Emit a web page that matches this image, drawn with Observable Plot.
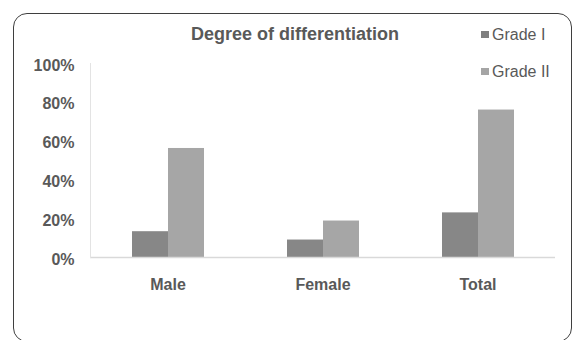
<!DOCTYPE html>
<html>
<head>
<meta charset="utf-8">
<script src="https://cdn.jsdelivr.net/npm/d3@7"></script>
<script src="https://cdn.jsdelivr.net/npm/@observablehq/plot@0.6"></script>
<style>
  html, body { margin: 0; padding: 0; background: #fff; }
  #chart { position: relative; width: 576px; height: 340px; overflow: hidden; font-family: "Liberation Sans", Arial, sans-serif; }
  #chart svg { position: absolute; left: 0; top: 0; }
  .box { position: absolute; left: 13px; top: 13px; width: 559px; height: 329px; border: 1.6px solid #3f3f3f; border-radius: 14px; box-sizing: border-box; }
  .title { position: absolute; left: 0; width: 590px; top: 24px; text-align: center; font-size: 18px; font-weight: bold; color: #595959; }
  .legend { position: absolute; left: 481px; font-size: 16px; color: #595959; line-height: 18px; }
  .legend span.sw { display: inline-block; width: 8px; height: 7px; margin-right: 3px; vertical-align: 2px; }
</style>
</head>
<body>
<div id="chart">
  <div class="box"></div>
</div>
<script>
// Share of patients by degree of differentiation
const categories = ["Male", "Female", "Total"];
const grades = ["Grade I", "Grade II"];
const gradeI = [0.133, 0.090, 0.230];
const gradeII = [0.562, 0.188, 0.760];
const yTicks = [0, 0.2, 0.4, 0.6, 0.8, 1];
const colors = ["#878787", "#a6a6a6"];
const swatchColors = ["#7f7f7f", "#a5a5a5"];

const rows = categories.flatMap((c, i) => [
  {category: c, grade: grades[0], value: gradeI[i]},
  {category: c, grade: grades[1], value: gradeII[i]}
]);

const chart = Plot.plot({
  width: 576,
  height: 340,
  marginLeft: 89,
  marginRight: 21,
  marginTop: 63,
  marginBottom: 83,
  style: {fontFamily: "'Liberation Sans', Arial, sans-serif", background: "transparent", color: "#595959"},
  fx: {domain: categories, padding: 0},
  x: {domain: grades, paddingInner: 0, paddingOuter: 1.1, axis: null},
  y: {domain: [0, 1]},
  color: {domain: grades, range: colors},
  marks: [
    Plot.barY(rows, {fx: "category", x: "grade", y: "value", fill: "grade"}),
    Plot.ruleY([0], {stroke: "#d9d9d9", strokeWidth: 1.5}),
    Plot.frame({anchor: "left", stroke: "#e3e3e3", facet: "super"}),
    Plot.axisY({ticks: yTicks, tickFormat: d3.format(".0%"), tickSize: 0, tickPadding: 16, dy: 2,
      fontSize: 16, fontWeight: "bold", fill: "#595959", label: null}),
    Plot.axisFx({anchor: "bottom", tickSize: 0, tickPadding: 21, fontSize: 16, fontWeight: "bold", fill: "#595959", label: null})
  ]
});

const root = document.getElementById("chart");
root.appendChild(chart);

const title = document.createElement("div");
title.className = "title";
title.textContent = "Degree of differentiation";
root.appendChild(title);

grades.forEach((g, i) => {
  const item = document.createElement("div");
  item.className = "legend";
  item.style.top = (26 + i * 37) + "px";
  const sw = document.createElement("span");
  sw.className = "sw";
  sw.style.background = swatchColors[i];
  item.appendChild(sw);
  item.appendChild(document.createTextNode(g));
  root.appendChild(item);
});
</script>
</body>
</html>
